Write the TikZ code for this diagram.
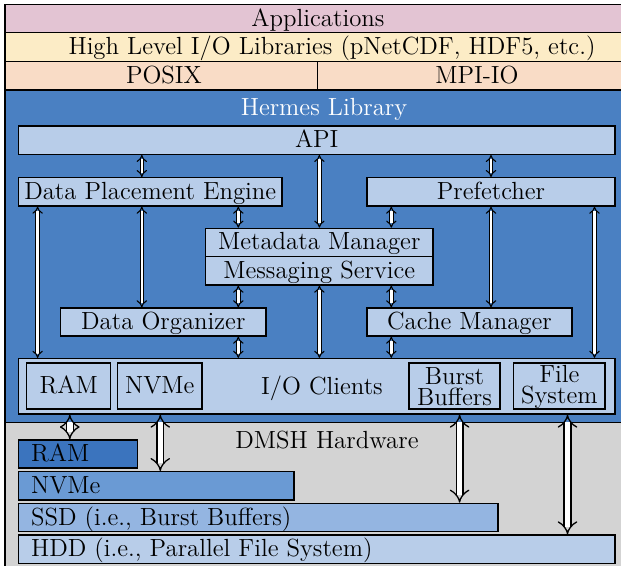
\documentclass[tikz,border=0pt]{standalone}
\usetikzlibrary{arrows.meta,fit}
\definecolor{apppink}{HTML}{E3C4D3}
\definecolor{hlyellow}{HTML}{FCECC6}
\definecolor{posixpeach}{HTML}{F9DCC6}
\definecolor{hermesblue}{HTML}{4A80C2}
\definecolor{lbox}{HTML}{B8CDE9}
\definecolor{hwgray}{HTML}{D3D3D3}
\definecolor{ramblue}{HTML}{3B74BE}
\definecolor{nvmeblue}{HTML}{6A9AD4}
\definecolor{ssdblue}{HTML}{94B5E1}
\definecolor{hddblue}{HTML}{B8CDE9}
\tikzset{
  lay/.style={draw=black, line width=0.65pt, inner sep=0pt},
  box/.style={draw=black, line width=0.65pt, fill=lbox, inner sep=0pt},
  txt/.style={inner sep=0pt, font=\fontsize{12.4}{10}\selectfont, text height=9.8pt, text depth=2.3pt},
  mtxt/.style={inner sep=0pt, font=\fontsize{12.4}{10.4}\selectfont, align=center},
  arr/.style={draw=black, line width=0.55pt, double=white, double distance=1.2pt, {Implies}-{Implies}},
  bigarr/.style={draw=black, line width=0.65pt, double=white, double distance=2.8pt, {Implies}-{Implies}},
}
\begin{document}
\begin{tikzpicture}[x=0.5pt,y=-0.5pt]
\useasboundingbox (0,0) rectangle (621,566);
% outer layers
\node[lay, fill=apppink, fit={(5,4.5) (636,32.7)}] (app) {};
\node[lay, fill=hlyellow, fit={(5,32.7) (636,61.3)}] (hl) {};
\node[lay, fill=posixpeach, fit={(5,61.3) (317.6,90)}] (posix) {};
\node[lay, fill=posixpeach, fit={(317.6,61.3) (636,90)}] (mpi) {};
\node[lay, fill=hermesblue, fit={(5,90) (636,422.5)}] (hermes) {};
\node[lay, fill=hwgray, fit={(5,422.5) (636,580)}] (dmsh) {};
\node[txt] (tapp) at (318,19) {Applications};
\node[txt] (thl) at (332,47.3) {High Level I/O Libraries (pNetCDF, HDF5, etc.)};
\node[txt] (tposix) at (164,76) {POSIX};
\node[txt] (tmpi) at (477,76) {MPI-IO};
\node[txt, text=white] (thermes) at (324,108) {Hermes Library};
\node[txt] (tdmsh) at (327,441) {DMSH Hardware};
% Hermes components
\node[box, fit={(18.5,126) (615,154.3)}] (api) {};
\node[txt] at (api.center) {API};
\node[box, fit={(18.5,177.7) (282,206)}] (dpe) {};
\node[txt] at (dpe.center) {Data Placement Engine};
\node[box, fit={(367,177.7) (615,206)}] (pref) {};
\node[txt] at (pref.center) {Prefetcher};
\node[box, fit={(205.5,228.3) (433,256.7)}] (meta) {};
\node[txt] at (meta.center) {Metadata Manager};
\node[box, fit={(205.5,256.7) (433,285)}] (msg) {};
\node[txt] at (msg.center) {Messaging Service};
\node[box, fit={(60.6,308) (266,336)}] (dorg) {};
\node[txt] at (dorg.center) {Data Organizer};
\node[box, fit={(367,308) (572,336)}] (cache) {};
\node[txt] at (cache.center) {Cache Manager};
\node[box, fit={(18.5,358.5) (615,414)}] (io) {};
\node[txt] (tio) at (322,387) {I/O Clients};
\node[box, fit={(26.7,363) (110.7,409)}] (iram) {};
\node[txt] at (iram.center) {RAM};
\node[box, fit={(117.6,363) (202,409)}] (invme) {};
\node[txt] at (invme.center) {NVMe};
\node[box, fit={(409,363) (500,409)}] (ibb) {};
\node[mtxt] at ([yshift=-0.3pt]ibb.center) {Burst\\Buffers};
\node[box, fit={(513.7,363) (605,409)}] (ifs) {};
\node[mtxt] at ([yshift=-0.3pt]ifs.center) {File\\System};
% hardware bars
\node[lay, fill=ramblue, fit={(18.5,440) (137.7,468)}] (bram) {};
\node[lay, fill=nvmeblue, fit={(18.5,471.7) (294,500)}] (bnvme) {};
\node[lay, fill=ssdblue, fit={(18.5,503.3) (498,531.7)}] (bssd) {};
\node[lay, fill=hddblue, fit={(18.5,535) (615,563.3)}] (bhdd) {};
\node[txt, anchor=west] at ([xshift=6.4pt]bram.west) {RAM};
\node[txt, anchor=west] at ([xshift=6.4pt]bnvme.west) {NVMe};
\node[txt, anchor=west] at ([xshift=6.4pt]bssd.west) {SSD (i.e., Burst Buffers)};
\node[txt, anchor=west] at ([xshift=6.4pt]bhdd.west) {HDD (i.e., Parallel File System)};
% columns
\coordinate (c37) at (37.6,0);
\coordinate (c142) at (141.8,0);
\coordinate (c238) at (238.3,0);
\coordinate (c319) at (319.4,0);
\coordinate (c391) at (391.3,0);
\coordinate (c491) at (491,0);
\coordinate (c594) at (594.5,0);
\coordinate (c69) at (69.8,0);
\coordinate (c160) at (160.3,0);
\coordinate (c459) at (459.6,0);
\coordinate (c567) at (567.5,0);
% thin arrows
\draw[arr] (api.south -| c142) -- (dpe.north -| c142);
\draw[arr] (api.south -| c319) -- (meta.north -| c319);
\draw[arr] (api.south -| c491) -- (pref.north -| c491);
\draw[arr] (dpe.south -| c238) -- (meta.north -| c238);
\draw[arr] (pref.south -| c391) -- (meta.north -| c391);
\draw[arr] (dpe.south -| c37) -- (io.north -| c37);
\draw[arr] (dpe.south -| c142) -- (dorg.north -| c142);
\draw[arr] (pref.south -| c491) -- (cache.north -| c491);
\draw[arr] (pref.south -| c594) -- (io.north -| c594);
\draw[arr] (msg.south -| c238) -- (dorg.north -| c238);
\draw[arr] (msg.south -| c391) -- (cache.north -| c391);
\draw[arr] (msg.south -| c319) -- (io.north -| c319);
\draw[arr] (dorg.south -| c238) -- (io.north -| c238);
\draw[arr] (cache.south -| c391) -- (io.north -| c391);
% thick arrows
\draw[bigarr] (io.south -| c69) -- (bram.north -| c69);
\draw[bigarr] (io.south -| c160) -- (bnvme.north -| c160);
\draw[bigarr] (io.south -| c459) -- (bssd.north -| c459);
\draw[bigarr] (io.south -| c567) -- (bhdd.north -| c567);
\end{tikzpicture}
\end{document}
